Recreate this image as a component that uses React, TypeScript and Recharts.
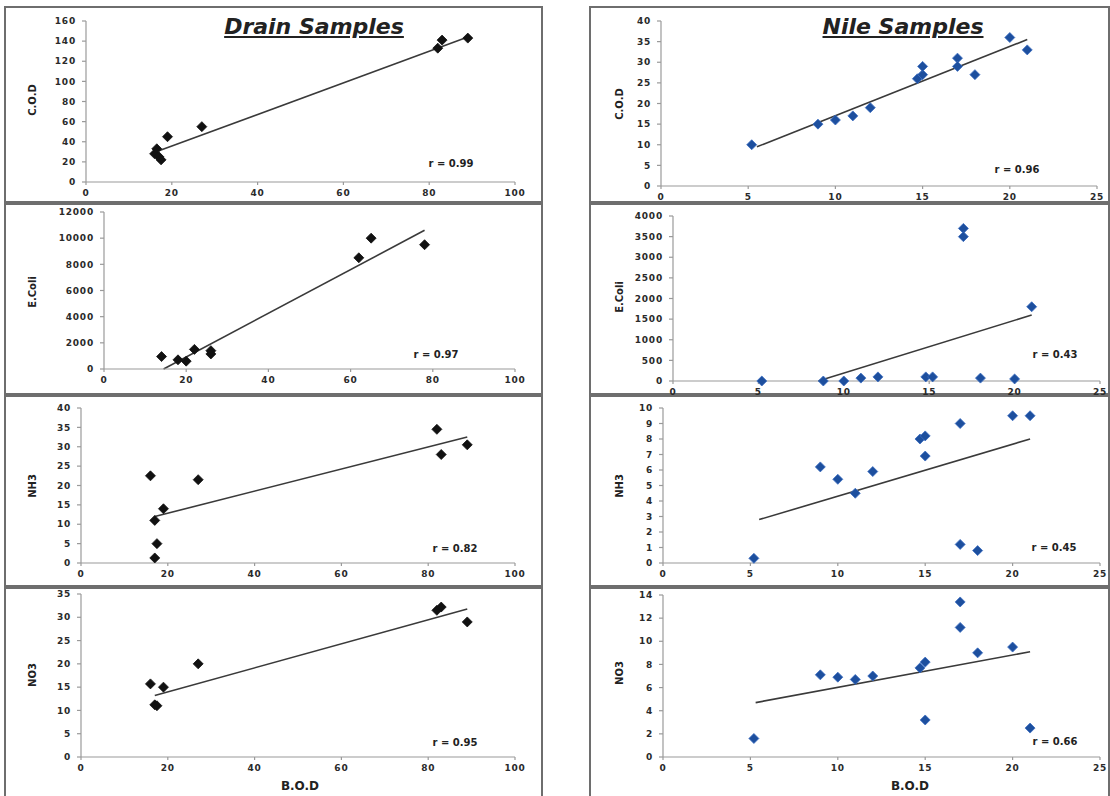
import React from "react";
import { ScatterChart, Scatter, XAxis, YAxis, ReferenceLine } from "recharts";

// ---- Drain samples (x = B.O.D) ----
const drainCodX = [16, 16.5, 17, 17.5, 19, 27, 82, 83, 89];
const drainCodY = [28, 33, 25, 22, 45, 55, 133, 141, 143];
const drainCodFit = [[17, 31], [89, 144]];

const drainEcoliX = [14, 18, 20, 22, 26, 26, 62, 65, 78];
const drainEcoliY = [950, 700, 600, 1500, 1400, 1150, 8500, 10000, 9500];
const drainEcoliFit = [[14.5, 0], [78, 10600]];

const drainNh3X = [16, 17, 17.5, 17, 19, 27, 82, 83, 89];
const drainNh3Y = [22.5, 11, 5, 1.3, 14, 21.5, 34.5, 28, 30.5];
const drainNh3Fit = [[17, 12], [89, 32.5]];

const drainNo3X = [16, 17, 17.5, 19, 27, 82, 83, 89];
const drainNo3Y = [15.7, 11.2, 11, 15, 20, 31.5, 32.2, 29];
const drainNo3Fit = [[17, 13.2], [89, 31.8]];

// ---- Nile samples (x = B.O.D) ----
const nileCodX = [5.2, 9, 10, 11, 12, 14.7, 15, 15, 17, 17, 18, 20, 21];
const nileCodY = [10, 15, 16, 17, 19, 26, 27, 29, 31, 29, 27, 36, 33];
const nileCodFit = [[5.5, 9.5], [21, 35.5]];

const nileEcoliX = [5.2, 8.8, 10, 11, 12, 14.8, 15.2, 17, 17, 18, 20, 21];
const nileEcoliY = [0, 0, 0, 70, 100, 100, 100, 3700, 3500, 70, 50, 1800];
const nileEcoliFit = [[8.5, 0], [21, 1600]];

const nileNh3X = [5.2, 9, 10, 11, 12, 14.7, 15, 15, 17, 17, 18, 20, 21];
const nileNh3Y = [0.3, 6.2, 5.4, 4.5, 5.9, 8, 8.2, 6.9, 9, 1.2, 0.8, 9.5, 9.5];
const nileNh3Fit = [[5.5, 2.8], [21, 8]];

const nileNo3X = [5.2, 9, 10, 11, 12, 14.7, 15, 15, 17, 17, 18, 20, 21];
const nileNo3Y = [1.6, 7.1, 6.9, 6.7, 7, 7.7, 8.2, 3.2, 13.4, 11.2, 9, 9.5, 2.5];
const nileNo3Fit = [[5.3, 4.7], [21, 9.1]];

// ---- ticks and correlation labels ----
const drainXTicks = [0, 20, 40, 60, 80, 100];
const nileXTicks = [0, 5, 10, 15, 20, 25];
const codDrainTicks = [0, 20, 40, 60, 80, 100, 120, 140, 160];
const ecoliDrainTicks = [0, 2000, 4000, 6000, 8000, 10000, 12000];
const nh3DrainTicks = [0, 5, 10, 15, 20, 25, 30, 35, 40];
const no3DrainTicks = [0, 5, 10, 15, 20, 25, 30, 35];
const codNileTicks = [0, 5, 10, 15, 20, 25, 30, 35, 40];
const ecoliNileTicks = [0, 500, 1000, 1500, 2000, 2500, 3000, 3500, 4000];
const nh3NileTicks = [0, 1, 2, 3, 4, 5, 6, 7, 8, 9, 10];
const no3NileTicks = [0, 2, 4, 6, 8, 10, 12, 14];
const drainR = ["0.99", "0.97", "0.82", "0.95"];
const nileR = ["0.96", "0.43", "0.45", "0.66"];

const zip = (xs: number[], ys: number[]) => xs.map((x, i) => ({ x, y: ys[i] }));

const BLACK = "#111";
const BLUE = "#1d4f9e";
const WIDE = "DejaVu Sans, Verdana, sans-serif";

const diamond = (color: string) => (props: any) => {
  const { cx, cy } = props;
  const r = 5;
  return (
    <path
      d={`M${cx},${cy - r}L${cx + r},${cy}L${cx},${cy + r}L${cx - r},${cy}Z`}
      fill={color}
      stroke={color === BLUE ? "#3a6cc0" : color}
      strokeWidth={0.8}
    />
  );
};

const tickStyle = { fill: "#2a2a2a", fontSize: 9, fontWeight: 700, fontFamily: WIDE, letterSpacing: 0.8 };
const axisLine = { stroke: "#9a9a9a", strokeWidth: 1.2 };

interface PanelProps {
  box: [number, number, number, number]; // left, top, width, height
  plot: [number, number, number, number]; // x0, x1, yTop, yZero (absolute px)
  points: { x: number; y: number }[];
  fit: number[][];
  xTicks: number[];
  yTicks: number[];
  color: string;
  yLabel: string;
  yLabelPos: [number, number];
  r: string;
  rPos: [number, number];
}

function Panel({ box, plot, points, fit, xTicks, yTicks, color, yLabel, yLabelPos, r, rPos }: PanelProps) {
  const [left, top, width, height] = box;
  const [x0, x1, yTop, yZero] = plot;
  const yAxisW = 40;
  const xAxisH = 22;
  const margin = {
    left: x0 - left - yAxisW,
    right: left + width - x1,
    top: yTop - top,
    bottom: top + height - yZero - xAxisH
  };
  return (
    <>
      <div style={{ position: "absolute", left, top }}>
        <ScatterChart width={width} height={height} margin={margin}>
          <XAxis
            type="number"
            dataKey="x"
            domain={[xTicks[0], xTicks[xTicks.length - 1]]}
            ticks={xTicks}
            height={xAxisH}
            tick={tickStyle}
            axisLine={axisLine}
            tickLine={axisLine}
            tickSize={3}
            tickMargin={5}
            interval={0}
          />
          <YAxis
            type="number"
            dataKey="y"
            domain={[yTicks[0], yTicks[yTicks.length - 1]]}
            ticks={yTicks}
            width={yAxisW}
            tick={tickStyle}
            axisLine={axisLine}
            tickLine={axisLine}
            tickSize={4}
            tickMargin={6}
            interval={0}
          />
          <ReferenceLine
            segment={[{ x: fit[0][0], y: fit[0][1] }, { x: fit[1][0], y: fit[1][1] }]}
            stroke="#3a3a3a"
            strokeWidth={1.6}
          />
          <Scatter data={points} shape={diamond(color)} isAnimationActive={false} />
        </ScatterChart>
      </div>
      <div
        style={{
          position: "absolute",
          left: yLabelPos[0] - 40,
          top: yLabelPos[1] - 7,
          width: 80,
          height: 14,
          lineHeight: "14px",
          textAlign: "center",
          transform: "rotate(-90deg)",
          fontSize: 10,
          fontWeight: 700,
          color: "#222",
          fontFamily: WIDE
        }}
      >
        {yLabel}
      </div>
      <div
        style={{
          position: "absolute",
          left: rPos[0] - 40,
          top: rPos[1] - 7,
          width: 80,
          height: 14,
          lineHeight: "14px",
          textAlign: "center",
          fontSize: 10,
          fontWeight: 700,
          color: "#222",
          fontFamily: WIDE
        }}
      >
        {`r = ${r}`}
      </div>
    </>
  );
}

const titleStyle: React.CSSProperties = {
  position: "absolute",
  width: 280,
  textAlign: "center",
  fontSize: 22,
  fontWeight: 700,
  fontStyle: "italic",
  textDecoration: "underline",
  color: "#222",
  fontFamily: WIDE,
  lineHeight: "26px"
};

const axisTitleStyle: React.CSSProperties = {
  position: "absolute",
  width: 100,
  textAlign: "center",
  fontSize: 12,
  fontWeight: 700,
  color: "#222",
  fontFamily: WIDE,
  lineHeight: "14px"
};

const frame = "2px solid #6e6e6e";

export default function App() {
  const L = 6;
  const LW = 535;
  const R = 591;
  const RW = 517;
  const rows = [7, 202, 394, 586, 796];
  return (
    <div style={{ position: "absolute", left: 0, top: 0, width: 1110, height: 796, background: "#fff", overflow: "hidden" }}>
      {/* panel frames */}
      {rows.slice(0, 4).map((t, i) => (
        <React.Fragment key={i}>
          <div style={{ position: "absolute", left: L - 2, top: t - 1, width: LW, height: rows[i + 1] - t + (i === 3 ? 10 : 0), border: frame }} />
          <div style={{ position: "absolute", left: R - 2, top: t - 1, width: RW, height: rows[i + 1] - t + (i === 3 ? 10 : 0), border: frame }} />
        </React.Fragment>
      ))}

      <Panel box={[L, 7, LW, 195]} plot={[86, 515, 21, 182]} points={zip(drainCodX, drainCodY)} fit={drainCodFit}
        xTicks={drainXTicks} yTicks={codDrainTicks} color={BLACK} yLabel="C.O.D" yLabelPos={[33, 100]} r={drainR[0]} rPos={[451, 164]} />
      <Panel box={[L, 202, LW, 192]} plot={[104, 515, 212, 369]} points={zip(drainEcoliX, drainEcoliY)} fit={drainEcoliFit}
        xTicks={drainXTicks} yTicks={ecoliDrainTicks} color={BLACK} yLabel="E.Coli" yLabelPos={[33, 292]} r={drainR[1]} rPos={[436, 355]} />
      <Panel box={[L, 394, LW, 192]} plot={[81, 515, 408, 563]} points={zip(drainNh3X, drainNh3Y)} fit={drainNh3Fit}
        xTicks={drainXTicks} yTicks={nh3DrainTicks} color={BLACK} yLabel="NH3" yLabelPos={[33, 486]} r={drainR[2]} rPos={[455, 549]} />
      <Panel box={[L, 586, LW, 210]} plot={[81, 515, 594, 757]} points={zip(drainNo3X, drainNo3Y)} fit={drainNo3Fit}
        xTicks={drainXTicks} yTicks={no3DrainTicks} color={BLACK} yLabel="NO3" yLabelPos={[33, 675]} r={drainR[3]} rPos={[455, 743]} />

      <Panel box={[R, 7, RW, 195]} plot={[661, 1097, 21, 186]} points={zip(nileCodX, nileCodY)} fit={nileCodFit}
        xTicks={nileXTicks} yTicks={codNileTicks} color={BLUE} yLabel="C.O.D" yLabelPos={[620, 104]} r={nileR[0]} rPos={[1017, 170]} />
      <Panel box={[R, 202, RW, 194]} plot={[673, 1100, 216, 381]} points={zip(nileEcoliX, nileEcoliY)} fit={nileEcoliFit}
        xTicks={nileXTicks} yTicks={ecoliNileTicks} color={BLUE} yLabel="E.Coli" yLabelPos={[620, 297]} r={nileR[1]} rPos={[1055, 355]} />
      <Panel box={[R, 394, RW, 192]} plot={[663, 1100, 408, 563]} points={zip(nileNh3X, nileNh3Y)} fit={nileNh3Fit}
        xTicks={nileXTicks} yTicks={nh3NileTicks} color={BLUE} yLabel="NH3" yLabelPos={[620, 486]} r={nileR[2]} rPos={[1054, 548]} />
      <Panel box={[R, 586, RW, 210]} plot={[663, 1100, 595, 757]} points={zip(nileNo3X, nileNo3Y)} fit={nileNo3Fit}
        xTicks={nileXTicks} yTicks={no3NileTicks} color={BLUE} yLabel="NO3" yLabelPos={[620, 673]} r={nileR[3]} rPos={[1055, 742]} />

      <div style={{ ...titleStyle, left: 314 - 140, top: 14 }}>Drain Samples</div>
      <div style={{ ...titleStyle, left: 903 - 140, top: 14 }}>Nile Samples</div>
      <div style={{ ...axisTitleStyle, left: 300 - 50, top: 779 }}>B.O.D</div>
      <div style={{ ...axisTitleStyle, left: 910 - 50, top: 779 }}>B.O.D</div>
    </div>
  );
}
